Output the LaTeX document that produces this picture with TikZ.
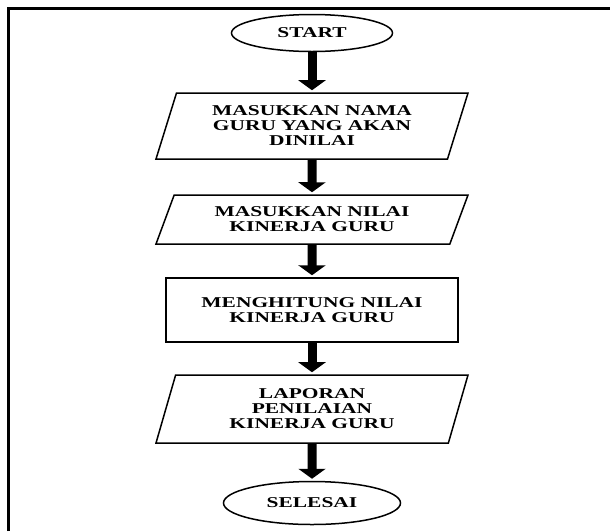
\documentclass[tikz,border=0pt]{standalone}
\usepackage{fontspec}
\usepackage{tikz}
\usetikzlibrary{arrows.meta,shapes.geometric}
\newfontfamily\chartfont[FakeStretch=1.43]{Liberation Serif}

\begin{document}
\begin{tikzpicture}[x=1pt, y=-1pt,
    every node/.style={font=\chartfont\bfseries\fontsize{15}{15}\selectfont, align=center, draw, line width=1.5pt},
    terminal/.style={ellipse, inner sep=0pt},
    iobox/.style 2 args={trapezium, trapezium left angle=#1, trapezium right angle=#2, trapezium stretches body, minimum width=312pt, inner sep=2pt},
    procbox/.style={rectangle, minimum width=292pt, minimum height=64pt},
    flowarrow/.style={line width=9pt, -{Triangle[width=27pt,length=10pt]}, shorten >=2pt}]
      \useasboundingbox (0,0) rectangle (610,531);
      \draw[line width=2.6pt] (8.7,531) -- (8.7,8.7) -- (610,8.7);
      \node[terminal, minimum width=161pt, minimum height=37pt] (start) at (312,33) {START};
      \node[iobox={65}{115}, minimum height=66pt] (inname) at (312,126) {MASUKKAN NAMA\\GURU YANG AKAN\\DINILAI};
      \node[iobox={58}{122}, minimum height=49pt] (inscore) at (312,219.5) {MASUKKAN NILAI\\KINERJA GURU};
      \node[procbox] (calc) at (312,310) {MENGHITUNG NILAI\\KINERJA GURU};
      \node[iobox={66}{114}, minimum height=68pt] (report) at (312,409) {LAPORAN\\PENILAIAN\\KINERJA GURU};
      \node[terminal, minimum width=177pt, minimum height=43pt] (finish) at (312,503) {SELESAI};
      \draw[flowarrow] (start) -- (inname);
      \draw[flowarrow] (inname) -- (inscore);
      \draw[flowarrow] (inscore) -- (calc);
      \draw[flowarrow] (calc) -- (report);
      \draw[flowarrow] (report) -- (finish);
    \end{tikzpicture}
\end{document}
